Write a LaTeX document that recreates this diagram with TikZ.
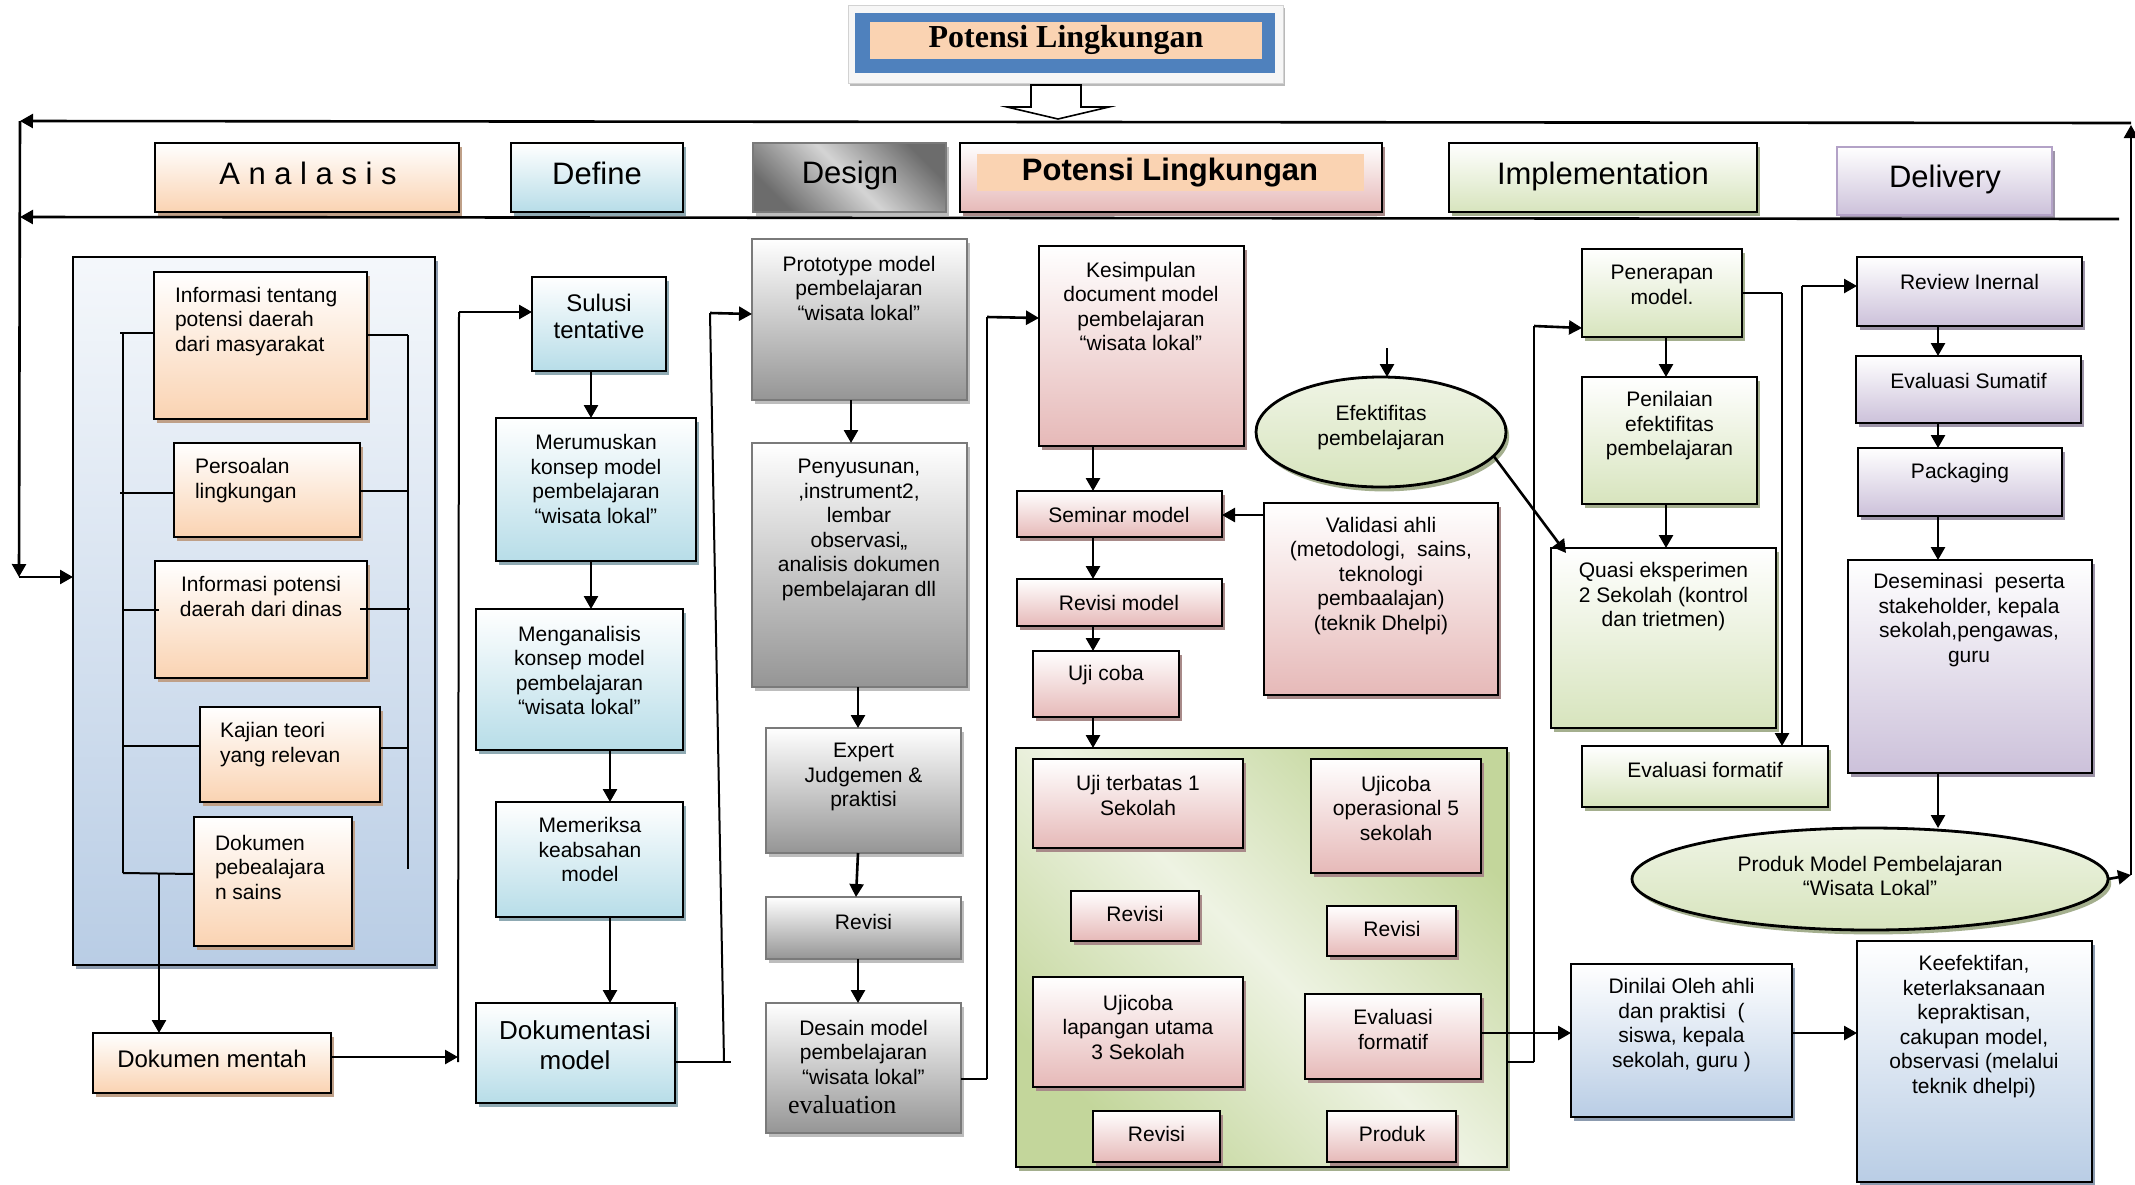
\documentclass[tikz,border=0pt]{standalone}
\usepackage{fontspec}
\setmainfont{Liberation Sans}
\newfontfamily\serifb{Liberation Serif}
\usetikzlibrary{arrows.meta,shapes.geometric,fit,shadows,calc}
\definecolor{peachc}{HTML}{FAD3B2}
\definecolor{peachs}{HTML}{BFA088}
\definecolor{bluec}{HTML}{B7DDE8}
\definecolor{blues}{HTML}{8FAAB3}
\definecolor{grayc}{HTML}{959595}
\definecolor{grayb}{HTML}{7A7A7A}
\definecolor{grays}{HTML}{BDBDBD}
\definecolor{pinkc}{HTML}{E6B9B8}
\definecolor{pinks}{HTML}{A88A89}
\definecolor{greenc}{HTML}{D7E4BD}
\definecolor{greens}{HTML}{A4AF8E}
\definecolor{greenl}{HTML}{EEF3E3}
\definecolor{greend}{HTML}{C3D69B}
\definecolor{purplec}{HTML}{CCC1DA}
\definecolor{purples}{HTML}{9D94A8}
\definecolor{purpleb}{HTML}{B3A2C7}
\definecolor{steelc}{HTML}{B9CDE5}
\definecolor{steels}{HTML}{8C9BAF}
\definecolor{titleblue}{HTML}{4F81BD}
\definecolor{metdark}{HTML}{6C6C6C}
\definecolor{metlight}{HTML}{D4D4D4}
\newcommand\fn{\fontsize{10.5}{12.25}\selectfont}
\begin{document}
\begin{tikzpicture}[x=0.5pt,y=-0.5pt,
  every node/.style={inner sep=0pt, outer sep=0pt},
  txt/.style={font=\fn, align=center},
  txtl/.style={font=\fn, align=left, anchor=west},
  hdr/.style={font=\fontsize{15.5}{18}\selectfont},
  bx/.style={draw=black, line width=1.4pt},
  shad/.style={drop shadow={shadow xshift=1.6pt, shadow yshift=-2.2pt, fill=#1, opacity=1}},
  peachbox/.style={bx, top color=white, bottom color=peachc, shad=peachs},
  bluebox/.style={bx, top color=white, bottom color=bluec, shad=blues},
  graybox/.style={bx, draw=grayb, top color=white, bottom color=grayc, shad=grays},
  pinkbox/.style={bx, top color=white, bottom color=pinkc, shad=pinks},
  greenbox/.style={bx, top color=white, bottom color=greenc, shad=greens},
  purplebox/.style={bx, top color=white, bottom color=purplec, shad=purples},
  steelbox/.style={bx, top color=white, bottom color=steelc, shad=steels},
  arr/.style={line width=1.3pt, -{Triangle[length=6.5pt,width=7pt]}},
  ln/.style={line width=1.3pt},
  thinln/.style={line width=1pt}]
\useasboundingbox (0,0) rectangle (2135,1184);
\fill[white] (0,0) rectangle (2135,1184);

% ---------- title ----------
\node[fill=gray!7, draw=gray!35, line width=0.5pt, drop shadow={shadow xshift=1pt, shadow yshift=-1.5pt, fill=gray!55, opacity=1}, fit={(848,5) (1283,83)}] (tframe) {};
\node[fill=titleblue, fit={(855,13) (1275,73)}] (tblue) {};
\node[fill=peachc, fit={(870,22) (1262,59)}] (tpeach) {};
\node[font=\serifb\bfseries\fontsize{16}{19}\selectfont] (title) at (1066,40) {Potensi Lingkungan};
\draw[fill=white, line width=0.8pt] (1031,85) -- (1081,85) -- (1081,107) -- (1109,107) -- (1058,119) -- (1007,107) -- (1031,107) -- cycle;

% ---------- header row ----------
\node[peachbox, fit={(155,143) (459,212)}] (hana) {};
\node[hdr] (hana-t) at (308,173) {A n a l a s i s};
\node[bluebox, fit={(511,143) (683,212)}] (hdef) {};
\node[hdr] (hdef-t) at (597,173) {Define};
\node[bx, draw=grayb, line width=1pt, top color=metdark, bottom color=metdark, middle color=metlight, shading angle=-45, shad=grays, fit={(753,143) (946,212)}] (hdes) {};
\node[hdr] (hdes-t) at (850,175) {Design};
\node[pinkbox, fit={(960,143) (1382,212)}] (hpot) {};
\node[fill=peachc, fit={(977,154) (1364,191)}] (hpot-in) {};
\node[hdr, font=\bfseries\fontsize{15.5}{18}\selectfont] (hpot-t) at (1170,173) {Potensi Lingkungan};
\node[greenbox, fit={(1449,143) (1757,212)}] (himp) {};
\node[hdr] (himp-t) at (1603,176) {Implementation};
\node[purplebox, draw=purpleb, fit={(1837,147) (2052,215)}] (hdel) {};
\node[hdr] (hdel-t) at (1945,179) {Delivery};

% ---------- loop lines ----------
\coordinate (TL) at (20,121);
\coordinate (TR) at (2131,123);
\coordinate (LL) at (19,577);
\coordinate (RB) at (2131,875);
\coordinate (S1) at (2119,219);
\coordinate (S2) at (20,217);
\draw[arr] (TR) -- (TL);
\draw[arr] (S1) -- (S2);
\draw[arr] (TL) -- (LL);

% ---------- Analisis ----------
\node[steelbox, top color=white!85!steelc, fit={(73,257) (435,965)}] (ana) {};
\draw[arr] (LL) -- (ana.west |- LL);
\node[peachbox, fit={(154,272) (367,419)}] (a1) {};
\node[txtl] (a1-t) at (175,321.5) {Informasi tentang\\potensi daerah\\dari masyarakat};
\node[peachbox, fit={(174,443) (360,537)}] (a2) {};
\node[txtl] (a2-t) at (195,480.5) {Persoalan\\lingkungan};
\node[peachbox, fit={(155,561) (367,678)}] (a3) {};
\node[txt] (a3-t) at (261,596.5) {Informasi potensi\\daerah dari dinas};
\node[peachbox, fit={(200,707) (380,802)}] (a4) {};
\node[txtl] (a4-t) at (220,744.5) {Kajian teori\\yang relevan};
\node[peachbox, fit={(194,817) (352,946)}] (a5) {};
\node[txtl] (a5-t) at (215,867) {Dokumen\\pebealajara\\n sains};
% brackets
\draw[thinln] (123,333) -- (123,873);
\draw[thinln] (120,333) -- (a1.west |- 0,333);
\draw[thinln] (120,493) -- (a2.west |- 0,493);
\draw[thinln] (123,610) -- (159,610);
\draw[thinln] (123,746) -- (a4.west |- 0,746);
\draw[thinln] (123,873) -- (a5.west |- 0,874);
\draw[thinln] (408,335) -- (408,869);
\draw[thinln] (a1.east |- 0,335) -- (408,335);
\draw[thinln] (a2.east |- 0,491) -- (408,491);
\draw[thinln] (360,609) -- (410,609);
\draw[thinln] (a4.east |- 0,748) -- (408,748);

\node[peachbox, fit={(93,1033) (331,1093)}] (dm) {};
\node[font=\fontsize{12}{14}\selectfont] (dm-t) at (212,1059) {Dokumen mentah};
\draw[arr] (159,873) -- (dm.north -| 159,0);

% ---------- Define ----------
\node[bluebox, fit={(532,277) (666,371)}] (sul) {};
\node[align=center, font=\fontsize{12}{13.5}\selectfont] (sul-t) at (599,316.5) {Sulusi\\tentative};
\node[bluebox, fit={(496,418) (696,561)}] (mer) {};
\node[txt] (mer-t) at (596,479) {Merumuskan\\konsep model\\pembelajaran\\“wisata lokal”};
\node[bluebox, fit={(476,609) (683,750)}] (men) {};
\node[txt] (men-t) at (579.5,670.5) {Menganalisis\\konsep model\\pembelajaran\\“wisata lokal”};
\node[bluebox, fit={(496,802) (683,917)}] (mem) {};
\node[txt] (mem-t) at (590,849.5) {Memeriksa\\keabsahan\\model};
\node[bluebox, fit={(476,1003) (675,1103)}] (dok) {};
\node[align=center, font=\fontsize{13}{15}\selectfont] (dok-t) at (575,1045) {Dokumentasi\\model};

\draw[arr] (dm.east |- 0,1057) -- (458,1057);
\draw[thinln] (458,1062) -- (459,312);
\draw[arr] (459,312) -- (sul.west |- 0,312);
\draw[arr] (sul.south -| 591,0) -- (mer.north -| 591,0);
\draw[arr] (mer.south -| 591,0) -- (men.north -| 591,0);
\draw[arr] (men.south -| 610,0) -- (mem.north -| 610,0);
\draw[arr] (mem.south -| 610,0) -- (dok.north -| 610,0);

% ---------- Design ----------
\node[graybox, fit={(752,239) (967,400)}] (pro) {};
\node[txt] (pro-t) at (859,288) {Prototype model\\pembelajaran\\“wisata lokal”};
\node[graybox, fit={(752,443) (967,687)}] (pen) {};
\node[txt] (pen-t) at (859,530) {Penyusunan,\\,instrument2,\\lembar\\observasi,,\\analisis dokumen\\pembelajaran dll};
\node[graybox, fit={(766,728) (961,853)}] (exp) {};
\node[txt] (exp-t) at (863.5,777) {Expert\\Judgemen \&\\praktisi};
\node[graybox, fit={(766,897) (961,959)}] (rv1) {};
\node[txt] (rv1-t) at (863.5,922) {Revisi};
\node[graybox, fit={(766,1003) (961,1133)}] (des) {};
\node[txt] (des-t) at (863.5,1052) {Desain model\\pembelajaran\\“wisata lokal”};
\node[anchor=west, font=\serifb\fontsize{13}{15}\selectfont] (des-e) at (788,1105) {evaluation};

\draw[thinln] (dok.east |- 0,1062) -- (731,1062);
\draw[thinln] (724,1062) -- (710,313);
\draw[arr] (710,313) -- (pro.west |- 0,314);
\draw[arr] (pro.south -| 851,0) -- (pen.north -| 851,0);
\draw[arr] (pen.south -| 858,0) -- (exp.north -| 858,0);
\draw[arr] (exp.south -| 858,0) -- (rv1.north -| 856,0);
\draw[arr] (rv1.south -| 858,0) -- (des.north -| 858,0);

% ---------- Potensi Lingkungan ----------
\node[pinkbox, fit={(1039,246) (1244,446)}] (kes) {};
\node[txt] (kes-t) at (1141,306.5) {Kesimpulan\\document model\\pembelajaran\\“wisata lokal”};
\node[pinkbox, fit={(1017,491) (1222,537)}] (sem) {};
\node[txt] (sem-t) at (1119,515) {Seminar model};
\node[pinkbox, fit={(1264,503) (1498,695)}] (val) {};
\node[txt] (val-t) at (1381,576) {Validasi ahli\\(metodologi,\ \ sains,\\teknologi\\pembaalajan)\\(teknik Dhelpi)};
\node[pinkbox, fit={(1017,579) (1222,626)}] (rvm) {};
\node[txt] (rvm-t) at (1119,603) {Revisi model};
\node[pinkbox, fit={(1033,651) (1179,717)}] (uji) {};
\node[txt] (uji-t) at (1106,675) {Uji coba};
\node[ellipse, draw=black, line width=1.4pt, top color=white!60!greenc, bottom color=greenc, shad=greens, minimum width=125pt, minimum height=55pt] (eff) at (1381,432) {};
\node[txt] (eff-t) at (1381,427.5) {Efektifitas\\pembelajaran};

\node[bx, top color=greend, bottom color=greend, middle color=greenl, shading angle=-45, drop shadow={shadow xshift=1.6pt, shadow yshift=-2.2pt, fill=greens, opacity=1}, fit={(1016,748) (1507,1167)}] (gc) {};
\node[pinkbox, fit={(1033,759) (1243,848)}] (ut1) {};
\node[txt] (ut1-t) at (1138,795.5) {Uji terbatas 1\\Sekolah};
\node[pinkbox, fit={(1311,759) (1481,873)}] (uo5) {};
\node[txt] (uo5-t) at (1396,808) {Ujicoba\\operasional 5\\sekolah};
\node[pinkbox, fit={(1071,891) (1199,941)}] (rv2) {};
\node[txt] (rv2-t) at (1135,914) {Revisi};
\node[pinkbox, fit={(1327,906) (1456,956)}] (rv3) {};
\node[txt] (rv3-t) at (1392,929) {Revisi};
\node[pinkbox, fit={(1033,977) (1243,1087)}] (ulu) {};
\node[txt] (ulu-t) at (1138,1027) {Ujicoba\\lapangan utama\\3 Sekolah};
\node[pinkbox, fit={(1305,994) (1481,1079)}] (evf) {};
\node[txt] (evf-t) at (1393,1029.5) {Evaluasi\\formatif};
\node[pinkbox, fit={(1093,1111) (1220,1162)}] (rv4) {};
\node[txt] (rv4-t) at (1156.5,1134) {Revisi};
\node[pinkbox, fit={(1327,1111) (1456,1162)}] (prd) {};
\node[txt] (prd-t) at (1392,1134) {Produk};

\draw[thinln] (des.east |- 0,1079) -- (987,1079);
\draw[thinln] (987,1079) -- (987,317);
\draw[arr] (987,317) -- (kes.west |- 0,318);
\draw[arr] (kes.south -| 1093,0) -- (sem.north -| 1093,0);
\draw[arr] (sem.south -| 1093,0) -- (rvm.north -| 1093,0);
\draw[arr] (rvm.south -| 1093,0) -- (uji.north -| 1093,0);
\draw[arr] (uji.south -| 1093,0) -- (gc.north -| 1093,0);
\draw[arr] (val.west |- 0,515) -- (sem.east |- 0,515);
\coordinate (effin) at (1387,348);
\draw[arr] (effin) -- (effin |- eff.north);

% ---------- Implementation ----------
\node[greenbox, fit={(1582,249) (1742,337)}] (ipa) {};
\node[txt] (ipa-t) at (1662,285) {Penerapan\\model.};
\node[greenbox, fit={(1582,377) (1757,504)}] (ipn) {};
\node[txt] (ipn-t) at (1669.5,426) {Penilaian\\efektifitas\\pembelajaran};
\node[greenbox, fit={(1551,548) (1776,728)}] (qua) {};
\node[txt] (qua-t) at (1663.5,597) {Quasi eksperimen\\2 Sekolah (kontrol\\dan trietmen)};
\node[greenbox, fit={(1582,746) (1828,807)}] (ief) {};
\node[txt] (ief-t) at (1705,770) {Evaluasi formatif};
\node[steelbox, fit={(1571,964) (1792,1117)}] (din) {};
\node[txt] (din-t) at (1681.5,1025) {Dinilai Oleh ahli\\dan praktisi\ \ (\\siswa, kepala\\sekolah, guru )};
\node[steelbox, fit={(1857,941) (2092,1182)}] (kee) {};
\node[txt] (kee-t) at (1974,1026.5) {Keefektifan,\\keterlaksanaan\\kepraktisan,\\cakupan model,\\observasi (melalui\\teknik dhelpi)};

\draw[arr] (eff.-12) -- ($(qua.north west)+(15,5)$);
\draw[thinln] (gc.east |- 0,1062) -- (1534,1062);
\draw[thinln] (1534,1062) -- (1534,326);
\draw[arr] (1534,326) -- (ipa.west |- 0,328);
\draw[thinln] (ipa.east |- 0,293) -- (1782,293);
\draw[arr] (1782,293) -- (ief.north -| 1782,0);
\draw[arr] (ipa.south -| 1666,0) -- (ipn.north -| 1666,0);
\draw[arr] (ipn.south -| 1666,0) -- (qua.north -| 1666,0);
\draw[arr] (evf.east |- 0,1033) -- (din.west |- 0,1033);
\draw[arr] (din.east |- 0,1033) -- (kee.west |- 0,1033);

% ---------- Delivery ----------
\node[purplebox, fit={(1857,257) (2082,326)}] (rvi) {};
\node[txt] (rvi-t) at (1969.5,282) {Review Inernal};
\node[purplebox, fit={(1856,356) (2081,423)}] (evs) {};
\node[txt] (evs-t) at (1968.5,381) {Evaluasi Sumatif};
\node[purplebox, fit={(1858,448) (2062,516)}] (pkg) {};
\node[txt] (pkg-t) at (1960,473) {Packaging};
\node[purplebox, fit={(1848,560) (2092,773)}] (dsm) {};
\node[txt] (dsm-t) at (1969,620) {Deseminasi\ \ peserta\\stakeholder, kepala\\sekolah,pengawas,\\guru};
\node[ellipse, draw=black, line width=1.4pt, top color=white!60!greenc, bottom color=greenc, shad=greens, minimum width=238pt, minimum height=51pt] (prod) at (1870,879) {};
\node[txt] (prod-t) at (1870,876) {Produk Model Pembelajaran\\“Wisata Lokal”};

\draw[thinln] (ief.north -| 1802,0) -- (1802,286);
\draw[arr] (1802,286) -- (rvi.west |- 0,286);
\draw[arr] (rvi.south -| 1938,0) -- (evs.north -| 1938,0);
\draw[arr] (evs.south -| 1938,0) -- (pkg.north -| 1938,0);
\draw[arr] (pkg.south -| 1938,0) -- (dsm.north -| 1938,0);
\draw[arr] (dsm.south -| 1938,0) -- (prod.north -| 1938,0);

\draw[arr] (prod.east) -- (RB);
\draw[arr] (RB) -- (2131,125);
\end{tikzpicture}
\end{document}
